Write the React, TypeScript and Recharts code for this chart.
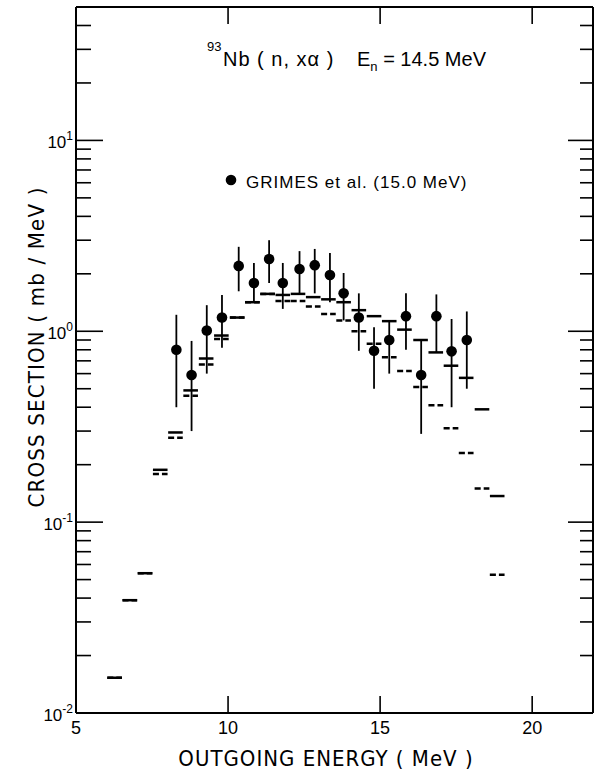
import { ComposedChart, Scatter, XAxis, YAxis, ErrorBar } from "recharts";

// Grimes et al. (15.0 MeV) measured points
const grimesE = [8.3, 8.8, 9.3, 9.8, 10.35, 10.85, 11.35, 11.8, 12.35, 12.85, 13.35, 13.8, 14.3, 14.8, 15.3, 15.85, 16.35, 16.85, 17.35, 17.85];
const grimesY = [0.8, 0.59, 1.01, 1.18, 2.2, 1.79, 2.39, 1.79, 2.12, 2.22, 1.97, 1.58, 1.18, 0.79, 0.9, 1.2, 0.59, 1.2, 0.785, 0.9];
const grimesLo = [0.4, 0.3, 0.6, 0.82, 1.62, 1.42, 1.79, 1.31, 1.58, 1.58, 1.42, 1.14, 0.79, 0.5, 0.6, 0.8, 0.29, 0.775, 0.4, 0.5];
const grimesHi = [1.22, 0.89, 1.37, 1.55, 2.77, 2.28, 3.0, 2.28, 2.63, 2.7, 2.57, 2.02, 1.58, 1.05, 1.14, 1.58, 0.9, 1.56, 1.16, 1.27];

// calculated spectra, 0.5 MeV bins
const calcE = [6.27, 6.77, 7.27, 7.77, 8.27, 8.77, 9.28, 9.78, 10.3, 10.8, 11.3, 11.8, 12.3, 12.8, 13.3, 13.8, 14.3, 14.8, 15.3, 15.8, 16.33, 16.83, 17.33, 17.83, 18.35, 18.85];
const calcSolid = [0.0153, 0.039, 0.054, 0.188, 0.295, 0.49, 0.72, 0.95, 1.18, 1.42, 1.57, 1.55, 1.57, 1.51, 1.47, 1.42, 1.29, 1.2, 1.13, 1.02, 0.9, 0.775, 0.66, 0.57, 0.39, 0.137];
const calcDashed = [0.0153, 0.039, 0.054, 0.179, 0.277, 0.46, 0.67, 0.91, 1.18, 1.42, 1.57, 1.44, 1.44, 1.35, 1.23, 1.14, 1.0, 0.86, 0.73, 0.62, 0.51, 0.41, 0.31, 0.23, 0.15, 0.053];
const binHalf = 0.24;

const xTicks = [5, 10, 15, 20];
const xTicksTop = [10, 15, 20];
const yDecades = [0.01, 0.1, 1, 10];
const yMinor = [2, 3, 4, 5, 6, 7, 8, 9];
const yTop = 50;

const yTicks = yDecades
  .flatMap((d) => [d, ...yMinor.map((m) => d * m)])
  .filter((v) => v <= yTop);

const grimesData = grimesE.map((x, i) => ({
  x,
  y: grimesY[i],
  err: [grimesY[i] - grimesLo[i], grimesHi[i] - grimesY[i]],
}));
const solidData = calcE.map((x, i) => ({ x, y: calcSolid[i], w: binHalf }));
const dashedData = calcE.map((x, i) => ({ x, y: calcDashed[i], w: binHalf }));

const font = "'Liberation Sans', Arial, sans-serif";
const narrow = "'Liberation Sans Narrow', 'DejaVu Sans Condensed', 'Liberation Sans', sans-serif";

const isMajor = (v: number) => yDecades.some((d) => Math.abs(d - v) < 1e-9);

function LeftTick(props: any) {
  const { x, y, payload } = props;
  const v = payload.value;
  const major = isMajor(v);
  return (
    <g>
      <line x1={x} x2={x + (major ? 27 : 15)} y1={y} y2={y} stroke="#000" strokeWidth={1.6} />
      {major && (
        <text x={x - 3} y={y + 8} textAnchor="end" fontSize={17} fontFamily={font} fill="#000">
          10
          <tspan dy={-8} fontSize={12}>
            {Math.round(Math.log10(v))}
          </tspan>
        </text>
      )}
    </g>
  );
}

function RightTick(props: any) {
  const { x, y, payload } = props;
  const major = isMajor(payload.value);
  return <line x1={x} x2={x - (major ? 25 : 13)} y1={y} y2={y} stroke="#000" strokeWidth={1.6} />;
}

function BottomTick(props: any) {
  const { x, y, payload } = props;
  return (
    <g>
      {payload.value !== 5 && <line x1={x} x2={x} y1={y} y2={y - 17} stroke="#000" strokeWidth={1.6} />}
      <text x={x} y={y + 21} textAnchor="middle" fontSize={18} fontFamily={font} fill="#000">
        {payload.value}
      </text>
    </g>
  );
}

function TopTick(props: any) {
  const { x, y } = props;
  return <line x1={x} x2={x} y1={y} y2={y + 17} stroke="#000" strokeWidth={1.6} />;
}

const axisLine = { stroke: "#000", strokeWidth: 2 };

export default function App() {
  return (
    <div style={{ position: "absolute", left: 0, top: 0, width: 597, height: 773, background: "#fff" }}>
      <ComposedChart width={597} height={773} margin={{ top: 6, right: 3, bottom: 59, left: 75 }}>
        <XAxis xAxisId="b" type="number" dataKey="x" domain={[5, 22]} ticks={xTicks} interval={0}
          allowDataOverflow height={1} tickSize={0} tickMargin={0} tickLine={false}
          axisLine={axisLine} tick={<BottomTick />} />
        <XAxis xAxisId="t" orientation="top" type="number" dataKey="x" domain={[5, 22]} ticks={xTicksTop}
          interval={0} allowDataOverflow height={1} tickSize={0} tickMargin={0} tickLine={false}
          axisLine={axisLine} tick={<TopTick />} />
        <YAxis yAxisId="l" type="number" dataKey="y" scale="log" domain={[yDecades[0], yTop]} ticks={yTicks}
          interval={0} allowDataOverflow width={1} tickSize={0} tickMargin={0} tickLine={false}
          axisLine={axisLine} tick={<LeftTick />} />
        <YAxis yAxisId="r" orientation="right" type="number" dataKey="y" scale="log" domain={[yDecades[0], yTop]}
          ticks={yTicks} interval={0} allowDataOverflow width={1} tickSize={0} tickMargin={0} tickLine={false}
          axisLine={axisLine} tick={<RightTick />} />

        <Scatter xAxisId="b" yAxisId="l" data={solidData} dataKey="y" shape={() => <g />} isAnimationActive={false}>
          <ErrorBar dataKey="w" direction="x" width={0} stroke="#000" strokeWidth={2.5} isAnimationActive={false} />
        </Scatter>
        <Scatter xAxisId="b" yAxisId="l" data={dashedData} dataKey="y" shape={() => <g />} isAnimationActive={false}>
          <ErrorBar dataKey="w" direction="x" width={0} stroke="#000" strokeWidth={2.5}
            strokeDasharray="6 3" isAnimationActive={false} />
        </Scatter>
        <Scatter xAxisId="b" yAxisId="l" data={grimesData} dataKey="y" isAnimationActive={false}
          shape={(p: any) => <circle cx={p.cx} cy={p.cy} r={5.3} fill="#000" />}>
          <ErrorBar dataKey="err" direction="y" width={0} stroke="#000" strokeWidth={1.8} isAnimationActive={false} />
        </Scatter>
      </ComposedChart>

      <svg width={597} height={773} style={{ position: "absolute", left: 0, top: 0, pointerEvents: "none" }}>
        <g fontFamily={font} fill="#000">
          <text x={207} y={51} fontSize={13}>93</text>
          <text x={223} y={66} fontSize={20} letterSpacing={1}>Nb ( n, xα )</text>
          <text x={357} y={66} fontSize={20}>
            E<tspan dy={5} fontSize={13}>n</tspan>
            <tspan dy={-5}> = 14.5 MeV</tspan>
          </text>
          <circle cx={231} cy={180} r={5.3} />
          <text x={246} y={188} fontSize={17} letterSpacing={1}>GRIMES et al. (15.0 MeV)</text>
        </g>
        <g fontFamily={narrow} fill="#000" fontSize={22}>
          <text x={326} y={766} textAnchor="middle" letterSpacing={1}>OUTGOING ENERGY ( MeV )</text>
          <text x={0} y={0} textAnchor="middle" letterSpacing={1.2} transform="translate(44,347) rotate(-90)">
            CROSS SECTION ( mb / MeV )
          </text>
        </g>
      </svg>
    </div>
  );
}
